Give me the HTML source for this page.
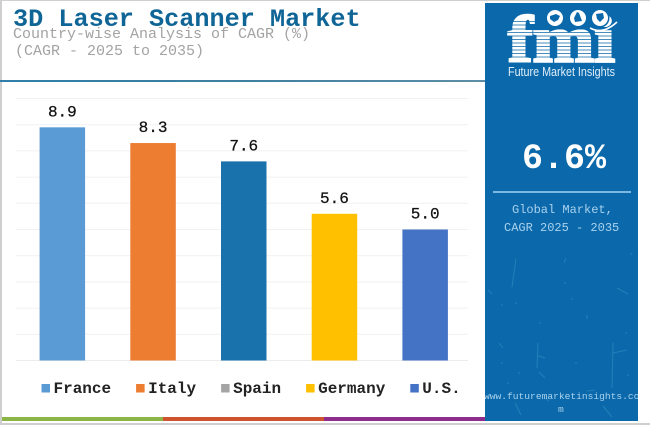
<!DOCTYPE html>
<html lang="en">
<head>
<meta charset="utf-8">
<title>3D Laser Scanner Market</title>
<style>
html,body{margin:0;padding:0;background:#fff;}
#page{position:relative;width:650px;height:425px;overflow:hidden;background:#fff;font-family:"Liberation Mono",monospace;}
#page div{position:absolute;}
.t{white-space:pre;}
</style>
</head>
<body>
<div id="page">
  <div style="left:0;top:0;width:2px;height:425px;background:#cfcfcf"></div>
  <div style="left:0;top:0;width:650px;height:1px;background:#cfcfcf"></div>
  <div style="left:0;top:423px;width:650px;height:2px;background:#cfcfcf"></div>

  <div class="t" style="left:13px;top:6px;font-size:25.2px;line-height:28px;font-weight:bold;color:#0f6596">3D Laser Scanner Market</div>
  <div class="t" style="left:13px;top:26px;font-size:15px;line-height:18px;color:#a3a3a3">Country-wise Analysis of CAGR (%)</div>
  <div class="t" style="left:15px;top:43px;font-size:15px;line-height:18px;color:#a3a3a3">(CAGR - 2025 to 2035)</div>
  <div style="left:0;top:80px;width:485px;height:2px;background:linear-gradient(90deg,#2f7fa8,#3f7f9f 50%,#5c8ea8)"></div>

  <svg id="chart" width="485" height="415" style="position:absolute;left:0;top:0"></svg>

  <div style="left:2px;top:417px;width:161px;height:4px;background:#8cb548"></div>
  <div style="left:163px;top:417px;width:161px;height:4px;background:#d0532f"></div>
  <div style="left:324px;top:417px;width:161px;height:4px;background:#8e2d8c"></div>

  <div style="left:485px;top:3px;width:153px;height:418px;background:#0b69ab;overflow:hidden">
    <svg width="153" height="418" style="position:absolute;left:0;top:0">
      <g stroke="#3f94c6" stroke-width="1" fill="none" opacity=".5">
        <path d="M31 256L27 284M81 255L79 260M132 285L143 291M53 340L52 365M128 340L127 385M128 350L142 347M53 353L60 355M54 369L60 375M102 388L110 387M30 300h2M79 280h2M86 296h2M102 312L102 316M16 302h2M54 320h2M22 380h2M16 360h2M140 330h2M142 372h2M90 360h2M33 370h2M145 250L147 252M3 287L7 291"/>
        <path d="M30 400L36 412M118 403L127 414M60 395L64 398M14 340L18 345"/>
      </g>
    </svg>
    <div style="left:0;top:0;width:153px;height:90px">
      <svg width="153" height="80" style="position:absolute;left:0;top:0">
        <text x="23" y="58.5" fill="#fff" stroke="#fff" stroke-width="2.4" font-family="'Liberation Serif',serif" font-weight="bold" font-size="66" textLength="107" lengthAdjust="spacingAndGlyphs">fmi</text>
        <g stroke="#0b69ab" stroke-width="0.8">
          <path d="M15 18.5H56M15 22H56M15 26H135M15 29.5H135M15 33H135M15 36.5H135M15 40H135M15 43.5H135M15 47H135M15 50.5H135M15 54H135"/>
        </g>
        <circle cx="70" cy="15" r="9.5" fill="#0b69ab"/>
        <circle cx="93" cy="15" r="9.5" fill="#0b69ab"/>
        <circle cx="115" cy="15" r="9.5" fill="#0b69ab"/>
        <circle cx="70" cy="15" r="8" fill="#fff"/>
        <circle cx="93" cy="15" r="8" fill="#fff"/>
        <circle cx="115" cy="15" r="8" fill="#fff"/>
        <path d="M65 13l6-2 4 2-2 4-4 2-4-3z" fill="#0b69ab"/>
        <path d="M92 9l2 1 3 8-7 1-1-4z" fill="#0b69ab"/>
        <path d="M111 11l7-1 1 5-4 4-3-3z" fill="#0b69ab"/>
        <path d="M105 25Q118 32 132 19" stroke="#fff" stroke-width="1.6" fill="none"/>
        <text x="23" y="73" font-family="'Liberation Sans',sans-serif" font-size="12.5" fill="#dfeefa" textLength="107" lengthAdjust="spacingAndGlyphs">Future Market Insights</text>
      </svg>
    </div>
    <div class="t" style="left:37px;top:136px;font-size:35px;line-height:40px;font-weight:bold;color:#fff">6.6%</div>
    <div style="left:8px;top:188px;width:138px;height:2px;background:#7db8e0"></div>
    <div class="t" style="left:27px;top:199px;font-size:12px;line-height:16px;color:#a9d2ee">Global Market,</div>
    <div class="t" style="left:19px;top:217px;font-size:12px;line-height:16px;color:#a9d2ee">CAGR 2025 - 2035</div>
    <div class="t" style="left:-1px;top:387px;font-size:9.6px;line-height:13px;color:#a9d2ee">www.futuremarketinsights.com</div>
    <div class="t" style="left:73px;top:400px;font-size:9.6px;line-height:13px;color:#a9d2ee">m</div>
  </div>
</div>
<script>
const categories = ["France", "Italy", "Spain", "Germany", "U.S."];
const cagrValues = [8.9, 8.3, 7.6, 5.6, 5.0];
const valueLabels = ["8.9", "8.3", "7.6", "5.6", "5.0"];
const gridTicks = [0, 1, 2, 3, 4, 5, 6, 7, 8, 9, 10];
const barColors = ["#5b9bd5", "#ed7d31", "#1a72ad", "#ffc000", "#4472c4"];
const legendColors = ["#5b9bd5", "#ed7d31", "#a5a5a5", "#ffc000", "#4472c4"];

const NS = "http://www.w3.org/2000/svg";
const svg = document.getElementById("chart");
const plot = { left: 16, right: 468, bandLeft: 17, bandWidth: 90.7, baseline: 360.5, unit: 26.2, barWidth: 45.5 };
function yScale(v) { return plot.baseline - v * plot.unit; }
function xCenter(i) { return plot.bandLeft + plot.bandWidth * (i + 0.5); }
function make(tag, attrs) {
  const el = document.createElementNS(NS, tag);
  for (const k in attrs) el.setAttribute(k, attrs[k]);
  svg.appendChild(el);
  return el;
}
gridTicks.forEach(function (t) {
  const line = make("line", { x1: plot.left, x2: plot.right, y1: yScale(t), y2: yScale(t), stroke: t === 0 ? "#ececec" : "#f1f1f1", "stroke-width": 1 });
  
  
});
cagrValues.forEach(function (v, i) {
  const bar = make("rect", { x: xCenter(i) - plot.barWidth / 2, y: yScale(v), width: plot.barWidth, height: plot.baseline - yScale(v), fill: barColors[i] });
  
  
  const label = make("text", { x: xCenter(i), y: yScale(v) - 11, "text-anchor": "middle", "font-family": "'Liberation Mono',monospace", "font-size": 16, fill: "#111", stroke: "#111", "stroke-width": 0.25 });
  label.textContent = valueLabels[i];
  
  
});
let legendX = 41.5;
categories.forEach(function (c, i) {
  const swatch = make("rect", { x: legendX, y: 384, width: 8.5, height: 8.5, fill: legendColors[i] });
  
  
  const text = make("text", { x: legendX + 12, y: 393, "font-family": "'Liberation Mono',monospace", "font-size": 16, "font-weight": "bold", fill: "#222" });
  text.textContent = c;
  
  
  legendX += 12 + c.length * 9.6 + 25;
});
</script>
</body>
</html>
